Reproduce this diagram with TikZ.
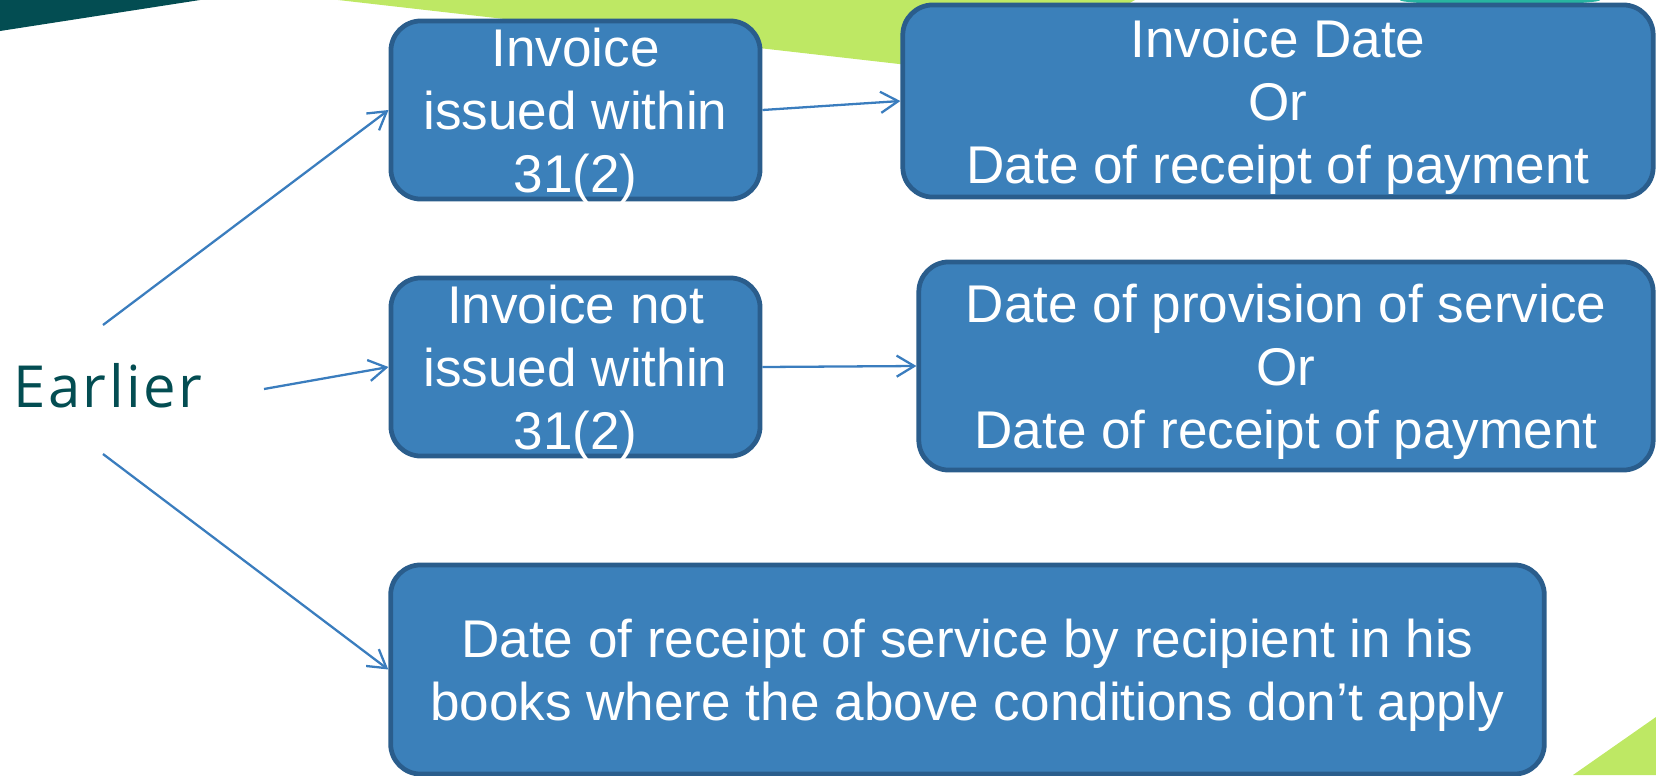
\documentclass[tikz,border=0pt]{standalone}
\usepackage{fontspec}
\setmainfont{Liberation Sans}
\newfontfamily\tagfont[LetterSpace=4.5]{Open Sans}
\usetikzlibrary{arrows.meta, positioning}

\definecolor{boxfill}{RGB}{59,128,186}
\definecolor{boxline}{RGB}{42,93,140}
\definecolor{linkblue}{RGB}{58,125,190}
\definecolor{deepteal}{RGB}{3,77,82}
\definecolor{limegreen}{RGB}{190,232,100}
\definecolor{seateal}{RGB}{40,180,160}

\begin{document}
\begin{tikzpicture}[
  x=0.01cm, y=-0.01cm,
  box/.style={rectangle, rounded corners=0.3cm, draw=boxline, line width=1.35pt,
              fill=boxfill, text=white, align=center, inner sep=0pt, text depth=0pt,
              font=\fontsize{15.1}{17.9}\selectfont},
  arrow/.style={-{Straight Barb[length=5pt,width=6pt]}, draw=linkblue, line width=0.65pt}
]
\clip (0,0) rectangle (1656,775);

% corner decorations
\fill[deepteal]  (0,0) -- (200,0) -- (0,31) -- cycle;
\fill[limegreen] (338,0) -- (1135,0) -- (1000,75.5) -- cycle;
\fill[seateal]   (1500,0) ellipse [x radius=1cm, y radius=0.05cm];
\fill[limegreen] (1573,775) -- (1656,717) -- (1656,775) -- cycle;

\node[font=\tagfont\fontsize{16.5}{20}\selectfont, text=deepteal, anchor=base, inner sep=0pt]
  (early) at (108,407) {Earlier};
\coordinate (early-up) at (103,325);
\coordinate (early-rt) at (264,389);
\coordinate (early-dn) at (103,454);

\node[box, minimum width=3.69cm, minimum height=1.78cm] (inv1) at (575.5,110) {Invoice\\issued within\\31(2)};
\node[box, minimum width=7.50cm, minimum height=1.92cm] (dt1) at (1278,101) {Invoice Date\\Or\\Date of receipt of payment};
\node[box, minimum width=3.69cm, minimum height=1.78cm] (inv2) at (575.5,367) {Invoice not\\issued within\\31(2)};
\node[box, minimum width=7.34cm, minimum height=2.08cm] (dt2) at (1286,366) {Date of provision of service\\Or\\Date of receipt of payment};
\node[box, minimum width=11.53cm, minimum height=2.09cm] (rcpt) at (967.5,669.5) {Date of receipt of service by recipient in his\\books where the above conditions don’t apply};

\draw[arrow] (early-up) -- (inv1.west);
\draw[arrow] (early-rt) -- (inv2.west);
\draw[arrow] (early-dn) -- (rcpt.west);
\draw[arrow] (inv1.east) -- (dt1.west);
\draw[arrow] (inv2.east) -- (dt2.west);
\end{tikzpicture}
\end{document}
